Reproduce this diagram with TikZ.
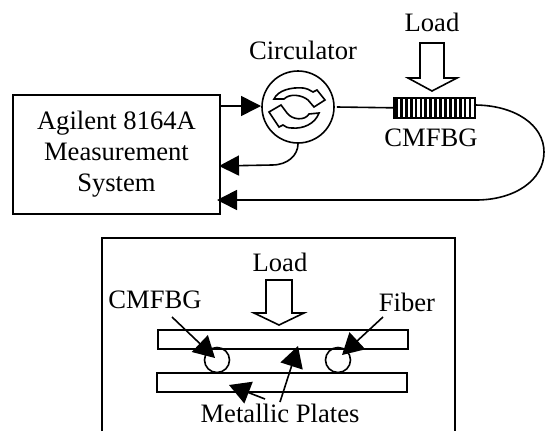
\documentclass[tikz,border=0pt]{standalone}
\usepackage{fontspec}
\setmainfont{Liberation Serif}
\usetikzlibrary{arrows.meta}
\tikzset{
  x=1pt,y=-1pt,
  lbl/.style={font=\fontsize{26.6}{31}\selectfont,inner sep=0pt,align=center},
  ln/.style={line width=1.6pt,black},
  wire/.style={ln,-{Triangle[length=20pt,width=20pt]}},
  pt/.style={ln,-{Triangle[length=21pt,width=23pt]}},
  hollow/.style={draw=black,fill=white,line width=1.6pt,line join=miter},
  plate/.style={draw=black,line width=1.6pt,minimum width=250pt,minimum height=19pt,inner sep=0pt,anchor=north west},
  ball/.style={circle,draw=black,line width=1.6pt,minimum size=25pt,inner sep=0pt},
}
\begin{document}
\begin{tikzpicture}
\useasboundingbox (0,0) rectangle (545,431);
% upper part
\node[draw=black,line width=1.9pt,minimum width=207pt,minimum height=119pt,inner sep=0pt,anchor=north west,lbl] (sys) at (12,94) {Agilent 8164A\\Measurement\\System};
\node[circle,draw=black,line width=1.6pt,minimum size=72pt,inner sep=0pt] (circ) at (298,107) {};
\node[draw=black,line width=1.6pt,minimum width=81pt,minimum height=20pt,inner sep=0pt,anchor=north west] (grat) at (393,97) {};
\foreach \i in {0,...,15}{\fill (395+\i*4.9,97) rectangle +(2.8,20);}
\node[lbl] (tload) at (432,22) {Load};
\node[lbl] (tcirc) at (303,50) {Circulator};
\node[lbl] (tcm) at (431,138) {CMFBG};
\coordinate (a1s) at (219,106);
\coordinate (a1e) at (261,106);
\coordinate (a2e) at (219,166);
\coordinate (a3e) at (217,200);
\coordinate (top) at (474,105);
\coordinate (far) at (544,152);
\coordinate (lowb) at (476,200);
\draw[wire] (a1s) -- (a1e);
\draw[ln] (circ.east) ++(2,0) -- (grat.west);
\draw[wire] (circ.south) .. controls (298,155) and (288,165) .. (272,165) -- (a2e);
\draw[wire] (top) .. controls (515,105) and (544,125) .. (far) .. controls (544,180) and (515,200) .. (lowb) -- (a3e);
\draw[hollow] (420,43)--(444,43)--(444,78)--(457,78)--(432,91)--(408,78)--(420,78)--cycle;
% circulator arrows
\draw[hollow] (274,99) .. controls (278,90) and (292,87) .. (303,88) .. controls (307,88.5) and (310,90) .. (313,92) -- (317,90) -- (325,100) -- (314,107) -- (308,100) .. controls (302,95) and (290,93) .. (284,99) -- cycle;
\draw[hollow] (319,113) .. controls (315,124) and (303,129) .. (292,128) .. controls (288,128) and (285,127) .. (283,125) -- (279,127) -- (269,112) -- (281,105) -- (287,113) .. controls (292,120) and (305,121) .. (309,114) -- cycle;
% lower part
\coordinate (bl) at (102,431);
\coordinate (br) at (455,431);
\draw[line width=1.9pt] (bl) -- (102,238) -- (455,238) -- (br);
\node[lbl] (tload2) at (280,262) {Load};
\draw[hollow] (266,280)--(292,280)--(292,313)--(304,313)--(279,325)--(254,313)--(266,313)--cycle;
\node[plate] (p1) at (157,329) {};
\node[plate] (p2) at (156,372) {};
\node[ball] (c1) at (217,360) {};
\node[ball] (c2) at (338,360) {};
\node[lbl] (tc) at (155,300) {CMFBG};
\node[lbl] (tf) at (407,302) {Fiber};
\node[lbl] (tm) at (280,413) {Metallic Plates};
\coordinate (s1) at (172,317);
\coordinate (e1) at (215,358);
\coordinate (s2) at (383,317);
\coordinate (e2) at (342,355);
\coordinate (s3) at (280,402);
\coordinate (e3) at (298,346);
\coordinate (s4) at (265,399);
\coordinate (e4) at (229,385);
\draw[pt] (s1) -- (e1);
\draw[pt] (s2) -- (e2);
\draw[pt] (s3) -- (e3);
\draw[pt] (s4) -- (e4);
\end{tikzpicture}
\end{document}
